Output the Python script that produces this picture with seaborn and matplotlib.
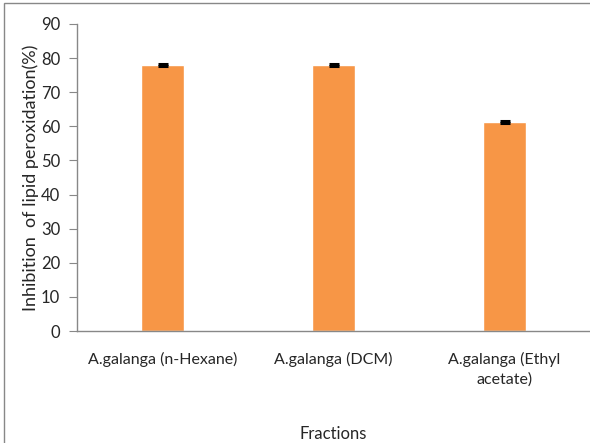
import numpy as np
import pandas as pd
import matplotlib
matplotlib.use("Agg")
import matplotlib.pyplot as plt
import seaborn as sns
from matplotlib.patches import Rectangle

# data
fractions = ['A.galanga (n-Hexane)', 'A.galanga (DCM)', 'A.galanga (Ethyl\nacetate)']
inhibition = [78.1, 78.0, 61.2]
errors = [0.3, 0.3, 0.25]

df = pd.DataFrame({'Fractions': fractions, 'Inhibition': inhibition})

sns.set_style('white')
plt.rcParams['font.family'] = ['Lato', 'DejaVu Sans']

fig = plt.figure(figsize=(5.9, 4.43), dpi=100)
ax = fig.add_axes([77 / 590, 1 - 331 / 443, 1 - 77 / 590, (331 - 24) / 443])

sns.barplot(data=df, x='Fractions', y='Inhibition', color='#F79646', width=0.25,
            saturation=1, ax=ax, errorbar=None)
ax.errorbar(np.arange(len(fractions)), inhibition, yerr=errors, fmt='none',
            ecolor='black', elinewidth=1.5, capsize=3.6, capthick=2.2)

ax.set_ylim(0, 90)
ax.set_yticks(range(0, 91, 10))
ax.set_xlim(-0.5, 2.5)
ax.tick_params(axis='y', labelsize=12, length=6, direction='out', color='#888888', left=True, pad=6)
ax.tick_params(axis='x', labelsize=11.5, length=0, pad=15)
for lbl in ax.get_xticklabels():
    lbl.set_linespacing(1.5)
for s in ['top', 'right']:
    ax.spines[s].set_visible(False)
for s in ['left', 'bottom']:
    ax.spines[s].set_color('#888888')
    ax.spines[s].set_linewidth(1)

ax.set_ylabel('Inhibition  of lipid peroxidation(%)', fontsize=13)
ax.yaxis.set_label_coords(-0.075, 0.5)
ax.set_xlabel('Fractions', fontsize=12)
ax.xaxis.set_label_coords(0.5, -0.31)

# outer border of the chart area
fig.patches.append(Rectangle((4 / 590, -0.1), 1.2, 1 - 3 / 443 + 0.1, transform=fig.transFigure,
                             fill=False, edgecolor='#888888', linewidth=1))

fig.savefig('out.png', dpi=100)
